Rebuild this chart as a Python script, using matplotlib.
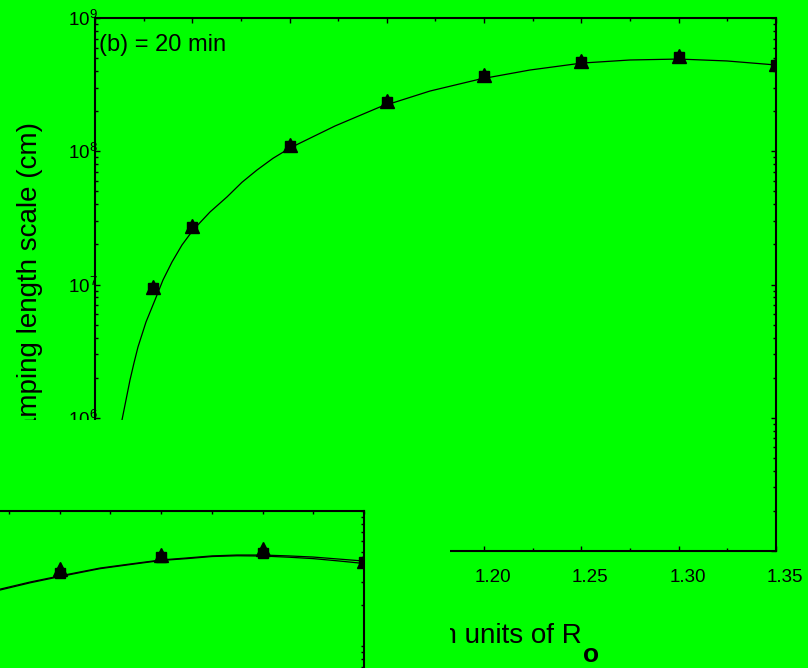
import matplotlib
matplotlib.use("Agg")
import matplotlib.pyplot as plt
import matplotlib.ticker as mticker
from matplotlib.patches import Rectangle
from matplotlib.transforms import ScaledTranslation

plt.rcParams['font.family'] = ['Liberation Sans', 'DejaVu Sans']
plt.rcParams['mathtext.fontset'] = 'custom'
plt.rcParams['mathtext.rm'] = 'Liberation Sans'
plt.rcParams['mathtext.it'] = 'Liberation Sans:italic'
plt.rcParams['mathtext.bf'] = 'Liberation Sans:bold'

GREEN = '#00ff00'

# main panel (b): measured points
r_pts = [1.03, 1.05, 1.10, 1.15, 1.20, 1.25, 1.30, 1.35]
L_sq = [9.4e6, 2.7e7, 1.09e8, 2.34e8, 3.67e8, 4.68e8, 5.09e8, 4.44e8]
L_tri = [9.6e6, 2.75e7, 1.11e8, 2.37e8, 3.72e8, 4.75e8, 5.15e8, 4.50e8]

# main panel fitted curve
r_fit = [1.008, 1.01387, 1.01593, 1.01799, 1.02004, 1.0221, 1.02621, 1.03083,
         1.03494, 1.03957, 1.04471, 1.05036, 1.0591, 1.06783, 1.07554, 1.08325,
         1.09147, 1.1002, 1.12333, 1.14645, 1.17214, 1.19784, 1.22353, 1.25026,
         1.27492, 1.3001, 1.32477, 1.35]
L_fit = [3.5e5, 9.62e5, 1.36e6, 1.92e6, 2.58e6, 3.40e6, 5.23e6, 7.65e6,
         1.081e7, 1.475e7, 1.98e7, 2.56e7, 3.50e7, 4.54e7, 5.85e7, 7.23e7,
         8.85e7, 1.058e8, 1.547e8, 2.15e8, 2.83e8, 3.48e8, 4.07e8, 4.59e8,
         4.84e8, 4.92e8, 4.76e8, 4.44e8]

# piece of the other panel in the lower left
r_pts2 = [1.20, 1.25, 1.30, 1.35]
L_sq2 = [3.48e8, 4.56e8, 4.88e8, 4.19e8]
L_tri2 = [3.70e8, 4.70e8, 5.20e8, 4.25e8]
r_fit2 = [1.15, 1.1707, 1.1855, 1.1998, 1.2199, 1.2347, 1.25, 1.2628, 1.2751,
          1.2874, 1.2998, 1.3126, 1.3249, 1.3372, 1.349]
L_fit2a = [2.27e8, 2.64e8, 2.98e8, 3.30e8, 3.78e8, 4.05e8, 4.34e8, 4.49e8, 4.65e8,
           4.72e8, 4.72e8, 4.65e8, 4.56e8, 4.41e8, 4.27e8]
L_fit2b = [2.24e8, 2.60e8, 2.94e8, 3.26e8, 3.74e8, 4.01e8, 4.30e8, 4.44e8, 4.60e8,
           4.66e8, 4.64e8, 4.55e8, 4.44e8, 4.27e8, 4.10e8]

fig = plt.figure(figsize=(8.08, 6.68), dpi=100, facecolor=GREEN)
W, H = 808.0, 668.0


def fig_rect(x0, y0, x1, y1):
    # pixel box (top-left origin) -> figure fraction [l, b, w, h]
    return [x0 / W, 1 - y1 / H, (x1 - x0) / W, (y1 - y0) / H]


ax = fig.add_axes(fig_rect(95, 18, 776, 551))
ax.set_facecolor(GREEN)
ax.set_yscale('log')
ax.set_xlim(1.00, 1.35)
ax.set_ylim(1e5, 1e9)
ax.plot(r_fit, L_fit, color='black', lw=0.9, zorder=2)
ax.plot(r_pts, L_tri, '^', color='black', ms=9.5, zorder=3)
ax.plot(r_pts, L_sq, 's', color='black', ms=7.5, zorder=4)

ax.xaxis.set_major_locator(mticker.MultipleLocator(0.05))
ax.xaxis.set_minor_locator(mticker.MultipleLocator(0.025))
ax.xaxis.set_major_formatter(mticker.FormatStrFormatter('%.2f'))
ax.yaxis.set_minor_formatter(mticker.NullFormatter())
ax.tick_params(which='both', direction='in', top=True, right=True, width=1.0)
ax.tick_params(which='major', length=3.5)
ax.tick_params(which='minor', length=2)
ax.tick_params(axis='x', labelsize=13.5, pad=13)
ax.tick_params(axis='y', labelsize=13.5, pad=-2)
for s in ax.spines.values():
    s.set_linewidth(1.5)
fig.canvas.draw()
for lab in ax.get_xticklabels():
    lab.set_transform(lab.get_transform() + ScaledTranslation(9 / 100, 0, fig.dpi_scale_trans))

fig.text(99 / W, 1 - 45 / H, '(b) = 20 min', fontsize=17, ha='left', va='center')

# axis titles
fig.text(30 / W, 1 - 122 / H, 'Damping length scale (cm)', fontsize=20,
         rotation=90, ha='center', va='top')
fig.text(582 / W, 1 - 636 / H, 'Radial distance in units of R', fontsize=20,
         ha='right', va='center')
fig.text(583 / W, 1 - 655 / H, 'o', fontsize=19, fontweight='bold',
         ha='left', va='center')

# green block hiding the lower-left corner
fig.patches.append(Rectangle((0, 0), 450 / W, 1 - 420 / H, transform=fig.transFigure,
                             facecolor=GREEN, edgecolor='none', zorder=5))

# the other panel, only its top-right corner is inside the picture
ax2 = fig.add_axes(fig_rect(-346, 511, 364, 1051))
ax2.set_zorder(6)
ax2.set_facecolor(GREEN)
ax2.set_yscale('log')
ax2.set_xlim(1.00, 1.35)
ax2.set_ylim(1e5, 1e9)
ax2.plot(r_fit2, L_fit2a, color='black', lw=0.9)
ax2.plot(r_fit2, L_fit2b, color='black', lw=0.9)
ax2.plot(r_pts2, L_tri2, '^', color='black', ms=9.5)
ax2.plot(r_pts2, L_sq2, 's', color='black', ms=7.5)
ax2.xaxis.set_major_locator(mticker.MultipleLocator(0.05))
ax2.xaxis.set_minor_locator(mticker.MultipleLocator(0.025))
ax2.tick_params(which='both', direction='in', top=True, right=True, width=1.0,
                length=2.5, labelleft=False, labelbottom=False)
for s in ax2.spines.values():
    s.set_linewidth(1.5)

fig.savefig('out.png', dpi=100, facecolor=GREEN)
